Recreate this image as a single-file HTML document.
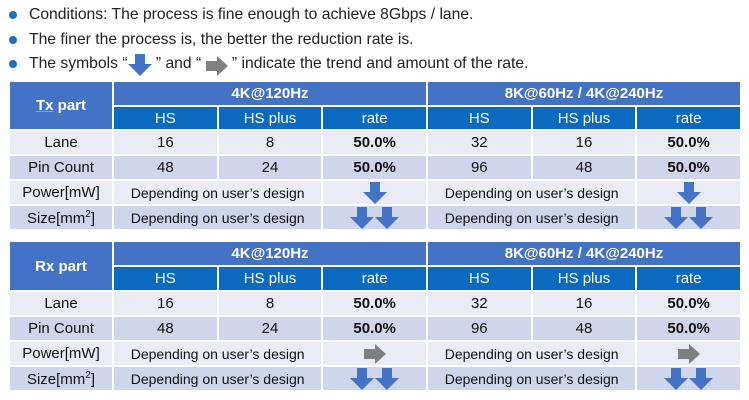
<!DOCTYPE html>
<html><head><meta charset="utf-8"><style>
body{margin:0;width:749px;height:400px;background:#fff;font-family:"Liberation Sans",sans-serif;overflow:hidden;position:relative}
.b{position:absolute;left:9px;font-size:15.7px;color:#222;height:18px;line-height:18px;white-space:nowrap}
.b::before{content:"";position:absolute;left:0;top:5px;width:8px;height:8px;border-radius:50%;background:#1f6fc0}
.b span{margin-left:20px}
.b svg{vertical-align:-5px;margin:-3px 0}
table{position:absolute;left:8px;border-collapse:collapse;table-layout:fixed;width:734px}
td{border:2px solid #fff;text-align:center;padding:0;font-size:15px;color:#111;overflow:hidden;white-space:nowrap}
.h1{background:#4472c4;color:#fff;font-weight:bold;font-size:15px}
.h2{background:#0a6abf;color:#fff}
.l td{background:#e9ecf5}
.d td{background:#cfd5ea}
.bold{font-weight:bold}
.dep{font-size:14px}
td svg{vertical-align:middle}
</style></head><body>
<div class="b" style="top:6px"><span>Conditions: The process is fine enough to achieve 8Gbps / lane.</span></div>
<div class="b" style="top:31px"><span>The finer the process is, the better the reduction rate is.</span></div>
<div class="b" style="top:55px"><span>The symbols “<svg width="24" height="22" viewBox="0 0 24 22"><polygon points="7,0 17,0 17,10 24,10 12,22 0,10 7,10" fill="#4472c4"/></svg> ” and “ <svg width="22" height="20" viewBox="0 0 22 20"><polygon points="0,5 11,5 11,0 22,10 11,20 11,15 0,15" fill="#7f7f7f"/></svg> ” indicate the trend and amount of the rate.</span></div>

<table style="top:80px">
<colgroup><col style="width:104px"><col><col><col><col><col><col></colgroup>
<tr style="height:25px"><td class="h1" rowspan="2" style="font-size:15px"><u style="text-decoration-color:#e08080">Tx</u> part</td><td class="h1" colspan="3">4K@120Hz</td><td class="h1" colspan="3">8K@60Hz / 4K@240Hz</td></tr>
<tr style="height:24px"><td class="h2">HS</td><td class="h2">HS plus</td><td class="h2">rate</td><td class="h2">HS</td><td class="h2">HS plus</td><td class="h2">rate</td></tr>
<tr class="l" style="height:25px"><td>Lane</td><td>16</td><td>8</td><td class="bold">50.0%</td><td>32</td><td>16</td><td class="bold">50.0%</td></tr>
<tr class="d" style="height:25px"><td>Pin Count</td><td>48</td><td>24</td><td class="bold">50.0%</td><td>96</td><td>48</td><td class="bold">50.0%</td></tr>
<tr class="l" style="height:25px"><td>Power[mW]</td><td colspan="2" class="dep">Depending on user’s design</td><td><svg width="24" height="22"><polygon points="7,0 17,0 17,10 24,10 12,22 0,10 7,10" fill="#4472c4"/></svg></td><td colspan="2" class="dep">Depending on user’s design</td><td><svg width="24" height="22"><polygon points="7,0 17,0 17,10 24,10 12,22 0,10 7,10" fill="#4472c4"/></svg></td></tr>
<tr class="d" style="height:25px"><td>Size[mm<sup style="font-size:10px">2</sup>]</td><td colspan="2" class="dep">Depending on user’s design</td><td><svg width="50" height="22"><polygon points="7,0 17,0 17,10 24,10 12,22 0,10 7,10" fill="#4472c4"/><polygon points="32,0 42,0 42,10 49,10 37,22 25,10 32,10" fill="#4472c4"/></svg></td><td colspan="2" class="dep">Depending on user’s design</td><td><svg width="50" height="22"><polygon points="7,0 17,0 17,10 24,10 12,22 0,10 7,10" fill="#4472c4"/><polygon points="32,0 42,0 42,10 49,10 37,22 25,10 32,10" fill="#4472c4"/></svg></td></tr>
</table>

<table style="top:240px">
<colgroup><col style="width:104px"><col><col><col><col><col><col></colgroup>
<tr style="height:25px"><td class="h1" rowspan="2">Rx part</td><td class="h1" colspan="3">4K@120Hz</td><td class="h1" colspan="3">8K@60Hz / 4K@240Hz</td></tr>
<tr style="height:25px"><td class="h2">HS</td><td class="h2">HS plus</td><td class="h2">rate</td><td class="h2">HS</td><td class="h2">HS plus</td><td class="h2">rate</td></tr>
<tr class="l" style="height:25px"><td>Lane</td><td>16</td><td>8</td><td class="bold">50.0%</td><td>32</td><td>16</td><td class="bold">50.0%</td></tr>
<tr class="d" style="height:25px"><td>Pin Count</td><td>48</td><td>24</td><td class="bold">50.0%</td><td>96</td><td>48</td><td class="bold">50.0%</td></tr>
<tr class="l" style="height:25px"><td>Power[mW]</td><td colspan="2" class="dep">Depending on user’s design</td><td><svg width="22" height="20"><polygon points="0,5 11,5 11,0 22,10 11,20 11,15 0,15" fill="#7f7f7f"/></svg></td><td colspan="2" class="dep">Depending on user’s design</td><td><svg width="22" height="20"><polygon points="0,5 11,5 11,0 22,10 11,20 11,15 0,15" fill="#7f7f7f"/></svg></td></tr>
<tr class="d" style="height:25px"><td>Size[mm<sup style="font-size:10px">2</sup>]</td><td colspan="2" class="dep">Depending on user’s design</td><td><svg width="50" height="22"><polygon points="7,0 17,0 17,10 24,10 12,22 0,10 7,10" fill="#4472c4"/><polygon points="32,0 42,0 42,10 49,10 37,22 25,10 32,10" fill="#4472c4"/></svg></td><td colspan="2" class="dep">Depending on user’s design</td><td><svg width="50" height="22"><polygon points="7,0 17,0 17,10 24,10 12,22 0,10 7,10" fill="#4472c4"/><polygon points="32,0 42,0 42,10 49,10 37,22 25,10 32,10" fill="#4472c4"/></svg></td></tr>
</table>
</body></html>
